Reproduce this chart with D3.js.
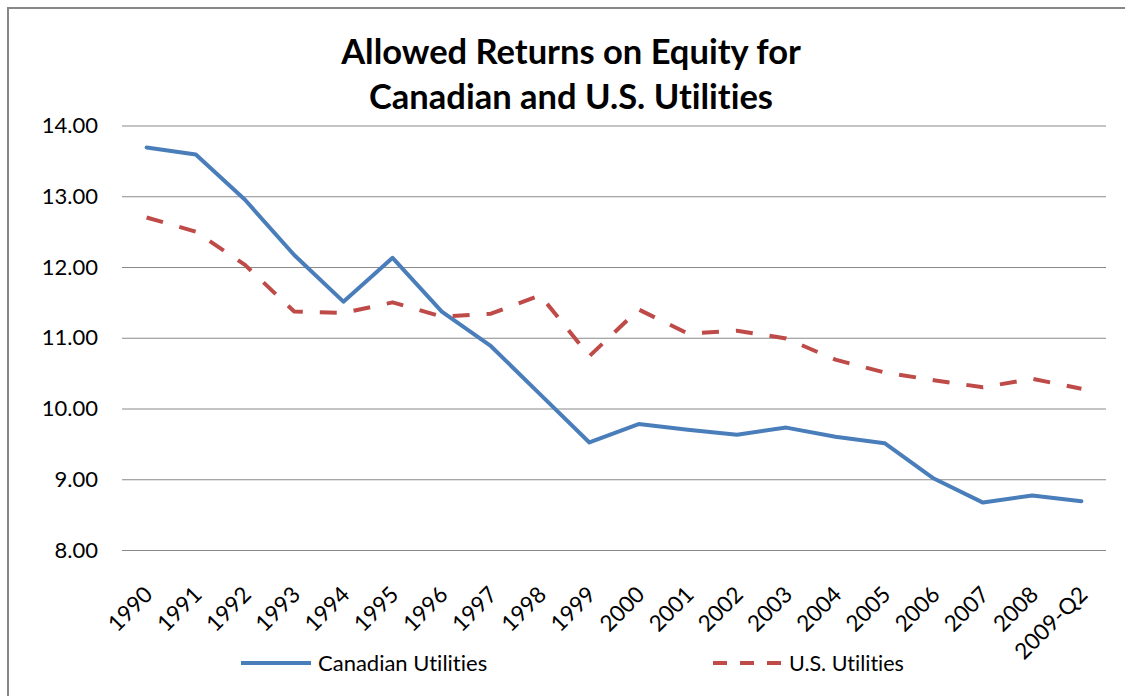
<!DOCTYPE html>
<html>
<head>
<meta charset="utf-8">
<script src="https://cdn.jsdelivr.net/npm/d3@7"></script>
<style>
  html, body { margin: 0; padding: 0; background: #fff; }
  svg { display: block; }
  text { font-family: Lato, "Open Sans", sans-serif; fill: #000; font-variant-ligatures: none; font-feature-settings: "liga" 0, "clig" 0; }
</style>
</head>
<body>
<svg id="chart" width="1125" height="696"></svg>
<script>
const categories = ["1990","1991","1992","1993","1994","1995","1996","1997","1998","1999",
                    "2000","2001","2002","2003","2004","2005","2006","2007","2008","2009-Q2"];
const canadianUtilities = [13.69, 13.59, 12.95, 12.17, 11.51, 12.13, 11.37, 10.88, 10.20, 9.52,
                           9.78, 9.70, 9.63, 9.73, 9.60, 9.51, 9.01, 8.67, 8.77, 8.69];
const usUtilities = [12.70, 12.50, 12.03, 11.37, 11.35, 11.50, 11.30, 11.34, 11.60, 10.74,
                     11.40, 11.06, 11.10, 10.99, 10.69, 10.51, 10.40, 10.30, 10.42, 10.28];
const yTicks = [8, 9, 10, 11, 12, 13, 14];
const titleLines = ["Allowed Returns on Equity for", "Canadian and U.S. Utilities"];
const seriesNames = ["Canadian Utilities", "U.S. Utilities"];

const svg = d3.select("#chart");

// outer chart border
svg.append("rect")
  .attr("x", 8).attr("y", 8).attr("width", 1300).attr("height", 900)
  .attr("fill", "#fff").attr("stroke", "#878787").attr("stroke-width", 2);

const plotLeft = 122, plotRight = 1106, plotTop = 125.5, plotBottom = 550;

const x = d3.scalePoint().domain(categories).range([plotLeft, plotRight]).padding(0.5);
const y = d3.scaleLinear().domain([8, 14]).range([plotBottom, plotTop]);

// gridlines
const yAxis = d3.axisLeft(y).tickValues(yTicks).tickSize(-(plotRight - plotLeft)).tickPadding(24)
  .tickFormat(d3.format(".2f"));
const gy = svg.append("g").attr("transform", `translate(${plotLeft},0)`).call(yAxis);
gy.select(".domain").remove();
gy.selectAll(".tick line").attr("stroke", "#8a8a8a").attr("stroke-width", 1.2);
gy.selectAll(".tick text").attr("font-size", 22).attr("fill", "#000")
  .attr("font-family", "Lato, sans-serif");

// x axis labels
const xAxis = d3.axisBottom(x).tickSize(0).tickPadding(0);
const gx = svg.append("g").attr("transform", `translate(0,${plotBottom})`).call(xAxis);
gx.select(".domain").remove();
gx.selectAll(".tick text")
  .attr("font-size", 22.5).attr("fill", "#000").attr("font-family", "Lato, sans-serif")
  .attr("text-anchor", "end")
  .attr("dy", 0)
  .attr("transform", "translate(7,46) rotate(-45)");

// lines
const line = d3.line().x((d, i) => x(categories[i])).y(d => y(d));
svg.append("path").datum(canadianUtilities)
  .attr("fill", "none").attr("stroke", "#4A7EBB").attr("stroke-width", 4)
  .attr("stroke-linejoin", "round").attr("stroke-linecap", "round")
  .attr("d", line);
svg.append("path").datum(usUtilities)
  .attr("fill", "none").attr("stroke", "#BE4B48").attr("stroke-width", 4)
  .attr("stroke-linejoin", "round").attr("stroke-linecap", "butt")
  .attr("stroke-dasharray", "17,17")
  .attr("d", line);

// title
const title = svg.append("text").attr("text-anchor", "middle")
  .attr("font-size", 34.5).attr("font-weight", "bold");
titleLines.forEach((t, i) => {
  title.append("tspan").attr("x", 571).attr("y", 64 + i * 45).text(t);
});

// legend
const legend = svg.append("g");
legend.append("line").attr("x1", 241).attr("x2", 311).attr("y1", 663).attr("y2", 663)
  .attr("stroke", "#4A7EBB").attr("stroke-width", 4);
legend.append("text").attr("x", 318).attr("y", 671).attr("font-size", 22).text(seriesNames[0]);
legend.append("line").attr("x1", 713).attr("x2", 782).attr("y1", 663).attr("y2", 663)
  .attr("stroke", "#BE4B48").attr("stroke-width", 4).attr("stroke-dasharray", "14,13");
legend.append("text").attr("x", 789).attr("y", 671).attr("font-size", 21.5).text(seriesNames[1]);
</script>
</body>
</html>
